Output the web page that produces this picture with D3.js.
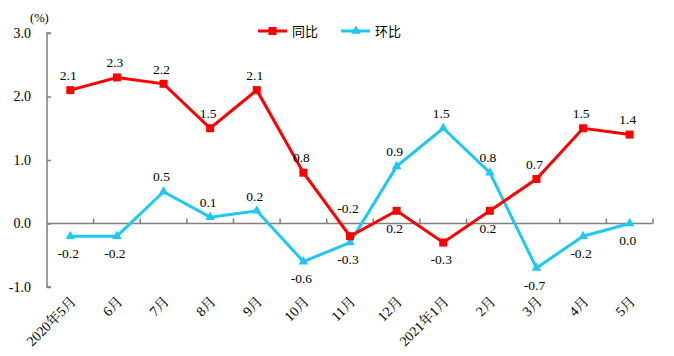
<!DOCTYPE html>
<html><head><meta charset="utf-8">
<script src="https://cdn.jsdelivr.net/npm/d3@7"></script>
<style>body{margin:0;background:#fff}svg{display:block}</style>
</head><body>
<svg id="c" width="674" height="356"></svg>
<script>
const categories = ["2020年5月","6月","7月","8月","9月","10月","11月","12月","2021年1月","2月","3月","4月","5月"];
const yoy = [2.1, 2.3, 2.2, 1.5, 2.1, 0.8, -0.2, 0.2, -0.3, 0.2, 0.7, 1.5, 1.4];
const mom = [-0.2, -0.2, 0.5, 0.1, 0.2, -0.6, -0.3, 0.9, 1.5, 0.8, -0.7, -0.2, 0.0];
const yTicks = [-1, 0, 1, 2, 3];
const seriesNames = ["同比", "环比"];

// label placement (style, not data)
const yoyPos = ["a","a","a","a","a","a","a2","b","b","b","a","a","a"];
const momPos = ["b","b","a","a","a","b","b","a","a","a","b","b","b"];

const svg = d3.select("#c");
const m = {l:47, r:21, t:33, b:69};
const W = 674, H = 356;
const x = d3.scaleBand().domain(categories).range([m.l, W - m.r]);
const y = d3.scaleLinear().domain([-1, 3]).range([287, 33]);
const serif = "'Liberation Serif','Times New Roman','Noto Serif CJK SC','Noto Sans CJK SC',serif";
const axisColor = "#7f7f7f";

// Y axis
const yAxis = d3.axisRight(y).tickValues(yTicks).tickSize(4).tickFormat("");
const gy = svg.append("g").attr("transform", `translate(${m.l},0)`).call(yAxis);
gy.select(".domain").attr("stroke", axisColor).attr("stroke-width", 1.5).attr("d", `M4,${y(3)}H0V${y(-1)}H4`);
gy.selectAll(".tick line").attr("stroke", axisColor).attr("stroke-width", 1.5);
svg.append("g").selectAll("text").data(yTicks).join("text")
  .attr("x", 31).attr("y", d => y(d)).attr("dy", "0.35em")
  .attr("text-anchor", "end").attr("font-family", serif).attr("font-size", 14).attr("fill", "#000")
  .text(d => d3.format(".1f")(d).replace("−","-"));
svg.append("text").attr("x", 30).attr("y", 22).attr("font-family", serif).attr("font-size", 12.5).text("(%)");

// X axis at zero
const xAxis = d3.axisTop(x).tickSize(0).tickFormat("");
const gx = svg.append("g").attr("transform", `translate(0,${y(0)})`).call(xAxis);
gx.select(".domain").attr("stroke", axisColor).attr("stroke-width", 1.5).attr("d", `M${m.l},0H${W - m.r}`);
const bounds = categories.map((c) => x(c) + x.bandwidth());
gx.selectAll("line.bt").data(bounds).join("line").attr("class", "bt")
  .attr("x1", d => d).attr("x2", d => d).attr("y1", 0).attr("y2", -5)
  .attr("stroke", axisColor).attr("stroke-width", 1.5);

// X labels rotated
svg.append("g").selectAll("text").data(categories).join("text")
  .attr("transform", d => `translate(${x(d) + x.bandwidth()/2 + 3},${299}) rotate(-45)`)
  .attr("text-anchor", "end").attr("dy", "0.35em")
  .attr("font-family", serif).attr("font-size", 14).attr("fill", "#000")
  .text(d => d);

const cx = (i) => x(categories[i]) + x.bandwidth()/2;
const red = "#ff0000", cyan = "#1ec8f0";
const line = d3.line().x((d, i) => cx(i)).y(d => y(d));

// series
svg.append("path").datum(mom).attr("d", line).attr("fill", "none").attr("stroke", cyan).attr("stroke-width", 3);
svg.append("path").datum(yoy).attr("d", line).attr("fill", "none").attr("stroke", red).attr("stroke-width", 3);

const tri = d3.symbol().type(d3.symbolTriangle).size(40);
svg.append("g").selectAll("path").data(mom).join("path")
  .attr("d", tri).attr("transform", (d, i) => `translate(${cx(i)},${y(d)})`).attr("fill", cyan);
svg.append("g").selectAll("rect").data(yoy).join("rect")
  .attr("x", (d, i) => cx(i) - 4).attr("y", d => y(d) - 4).attr("width", 8).attr("height", 8).attr("fill", red);

// labels
function dyFor(p) { return p === "a" ? -15 : p === "a2" ? -28 : 17; }
function addLabels(vals, pos) {
  svg.append("g").selectAll("text").data(vals).join("text")
    .attr("x", (d, i) => cx(i) - 2).attr("y", (d, i) => y(d) + dyFor(pos[i])).attr("dy", "0.35em")
    .attr("text-anchor", "middle").attr("font-family", serif).attr("font-size", 13.5).attr("fill", "#000")
    .text(d => d3.format(".1f")(d).replace("−", "-"));
}
addLabels(yoy, yoyPos);
addLabels(mom, momPos);

// legend
const lg = svg.append("g");
const legendItems = [{name: seriesNames[0], color: red, x: 258, mark: "sq"}, {name: seriesNames[1], color: cyan, x: 341, mark: "tri"}];
legendItems.forEach(it => {
  lg.append("line").attr("x1", it.x).attr("x2", it.x + 29).attr("y1", 31).attr("y2", 31).attr("stroke", it.color).attr("stroke-width", 3);
  if (it.mark === "sq") lg.append("rect").attr("x", it.x + 10.5).attr("y", 27).attr("width", 8).attr("height", 8).attr("fill", it.color);
  else lg.append("path").attr("d", tri).attr("transform", `translate(${it.x + 15},31)`).attr("fill", it.color);
  lg.append("text").attr("x", it.x + 34).attr("y", 31).attr("dy", "0.35em")
    .attr("font-family", "'Noto Sans CJK SC',sans-serif").attr("font-size", 13).attr("fill", "#000").text(it.name);
});
</script>
</body></html>
